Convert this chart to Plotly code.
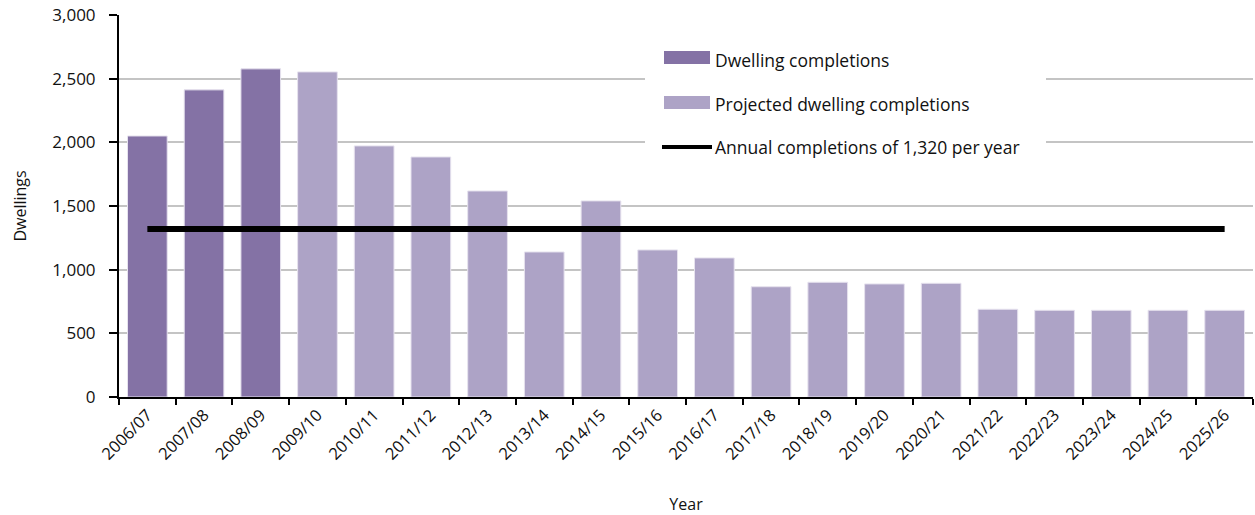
import plotly.graph_objects as go

years = ["2006/07", "2007/08", "2008/09", "2009/10", "2010/11", "2011/12", "2012/13",
         "2013/14", "2014/15", "2015/16", "2016/17", "2017/18", "2018/19", "2019/20",
         "2020/21", "2021/22", "2022/23", "2023/24", "2024/25", "2025/26"]
completions = [2050, 2412, 2577, None, None, None, None, None, None, None, None,
               None, None, None, None, None, None, None, None, None]
projected = [None, None, None, 2553, 1972, 1885, 1618, 1139, 1540, 1155, 1092,
             866, 901, 888, 893, 689, 681, 681, 681, 681]
annual_rate = [1320] * len(years)

legend_labels = ["Dwelling completions", "Projected dwelling completions",
                 "Annual completions of 1,320 per year"]
y_ticks = [0, 500, 1000, 1500, 2000, 2500, 3000]

DARK = "#8472A5"
LIGHT = "#ADA3C6"
FONT = "Open Sans"
TXT = "#111111"

W, H = 1255, 515
L, R, T, B = 119, 2, 15, 515 - 397


def px(x):
    return (x - L) / (W - L - R)


def py(y):
    return (H - B - y) / (H - B - T)


fig = go.Figure()
fig.add_trace(go.Bar(x=years, y=completions, name=legend_labels[0],
                     marker=dict(color=DARK, line=dict(color="#E6E2EE", width=1)),
                     showlegend=False))
fig.add_trace(go.Bar(x=years, y=projected, name=legend_labels[1],
                     marker=dict(color=LIGHT, line=dict(color="#E6E2EE", width=1)),
                     showlegend=False))
fig.add_trace(go.Scatter(x=years, y=annual_rate, mode="lines", name=legend_labels[2],
                         line=dict(color="black", width=6), showlegend=False))

shapes = [
    dict(type="rect", xref="paper", yref="paper", x0=px(645), x1=px(1046),
         y0=py(195), y1=py(25), fillcolor="white", line=dict(width=0), layer="above"),
    dict(type="rect", xref="paper", yref="paper", x0=px(664), x1=px(710),
         y0=py(64), y1=py(51), fillcolor=DARK, line=dict(width=0), layer="above"),
    dict(type="rect", xref="paper", yref="paper", x0=px(664), x1=px(710),
         y0=py(109), y1=py(96), fillcolor=LIGHT, line=dict(width=0), layer="above"),
    dict(type="line", xref="paper", yref="paper", x0=px(662), x1=px(712),
         y0=py(147), y1=py(147), line=dict(color="black", width=4), layer="above"),
]
annotations = []
for lab, yy in zip(legend_labels, [60, 104, 147]):
    annotations.append(dict(text=lab, xref="paper", yref="paper", x=px(713), y=py(yy),
                            xanchor="left", yanchor="middle", showarrow=False,
                            font=dict(family=FONT, size=17.5, color=TXT)))

fig.update_layout(
    width=W, height=H,
    margin=dict(l=L, r=R, t=T, b=B, autoexpand=False),
    paper_bgcolor="white", plot_bgcolor="white",
    barmode="overlay", bargap=0.3,
    font=dict(family=FONT, size=15, color=TXT),
    shapes=shapes, annotations=annotations,
)
fig.update_xaxes(
    type="category", tickangle=-45, tickson="boundaries",
    ticks="outside", ticklen=6, tickwidth=2, tickcolor="black",
    showline=True, linecolor="black", linewidth=2,
    showgrid=False, automargin=False,
    tickfont=dict(family=FONT, size=16.5, color=TXT),
    title=dict(text="Year", font=dict(family=FONT, size=16, color=TXT), standoff=40),
)
fig.update_yaxes(
    range=[0, 3000], tickvals=y_ticks, tickformat=",",
    ticks="outside", ticklen=8, tickwidth=2, tickcolor="black",
    showline=True, linecolor="black", linewidth=2,
    showgrid=True, gridcolor="#C4C4C4", gridwidth=2,
    zeroline=False, automargin=False, ticklabeloverflow="allow",
    ticklabelstandoff=10,
    tickfont=dict(family=FONT, size=17, color=TXT),
    title=dict(text="Dwellings", font=dict(family=FONT, size=16, color=TXT), standoff=22),
)

fig.write_html("out.html",
               config={"displayModeBar": False},
               post_script="document.body.style.margin='0px';"
                           "document.body.style.overflow='hidden';")
